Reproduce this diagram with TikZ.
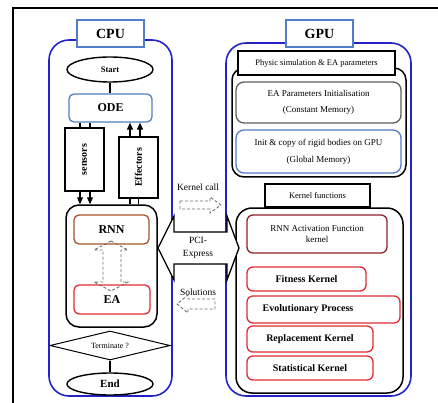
\documentclass[tikz,border=0pt]{standalone}
\usepackage{fontspec}
\setmainfont{Liberation Serif}
\usetikzlibrary{shapes.geometric,arrows.meta,calc}
\definecolor{contblue}{RGB}{35,35,200}
\definecolor{headblue}{RGB}{80,125,200}
\definecolor{rnnbrown}{RGB}{165,85,40}
\definecolor{kred}{RGB}{225,45,50}
\definecolor{darkred}{RGB}{140,35,45}
\definecolor{memgray}{RGB}{95,95,95}
\definecolor{dashgray}{RGB}{110,110,110}
\begin{document}
\begin{tikzpicture}[x=1pt,y=-1pt,
  container/.style={draw=contblue, line width=1.6pt, rounded corners=20pt, inner sep=0},
  innercont/.style={draw=black, line width=1.5pt, rounded corners=13pt, inner sep=0},
  titlebox/.style={draw=headblue, line width=2pt, fill=white, inner sep=0,
     font=\fontsize{14}{16}\selectfont\bfseries, minimum width=67pt, minimum height=27pt},
  blackbox/.style={draw=black, line width=2pt, fill=white, inner sep=0},
  roundbox/.style={line width=1.3pt, rounded corners=6pt, inner sep=0, fill=white},
  kbox/.style={roundbox, draw=kred, font=\fontsize{10}{11}\selectfont\bfseries},
  oval/.style={draw=black, ellipse, line width=1.4pt, inner sep=0},
  conn/.style={draw=black, line width=1.1pt},
  arr/.style={conn, -{Triangle[length=7pt,width=6pt]}},
  hollow/.style={draw=black, fill=white, line width=1.3pt, line join=miter},
  dasharrow/.style={draw=dashgray, line width=0.9pt, dash pattern=on 3pt off 2pt},
  lbl/.style={inner sep=0, font=\fontsize{9.5}{13}\selectfont, align=center}
]
\useasboundingbox (0,0) rectangle (438,403);

% outer frame (left and top edges)
\coordinate (fbl) at (13,403);
\coordinate (ftl) at (13,8);
\coordinate (ftr) at (438,8);
\draw[line width=1.3pt] (fbl) -- (ftl) -- (ftr);

% ---------------- CPU ----------------
\node[container, minimum width=123pt, minimum height=356pt] (cpuc) at (110.5,218) {};
\node[titlebox] (cpu) at (110.5,33.5) {CPU};

\node[oval, minimum width=86pt, minimum height=25pt, font=\fontsize{8.5}{10}\selectfont\bfseries] (start) at (110,69.5) {Start};
\node[roundbox, draw=headblue, rounded corners=5pt, minimum width=83pt, minimum height=28pt,
      font=\fontsize{12}{14}\selectfont\bfseries] (ode) at (110.5,108) {ODE};

\node[blackbox, minimum width=39pt, minimum height=63pt, font=\fontsize{10}{12}\selectfont\bfseries]
   (sens) at (84.5,159.5) {\rotatebox{90}{sensors}};
\node[blackbox, minimum width=39pt, minimum height=61pt, font=\fontsize{10}{12}\selectfont\bfseries]
   (eff) at (138.5,167.5) {\rotatebox{90}{Effectors}};

\node[innercont, minimum width=91pt, minimum height=122pt] (rnnc) at (111.5,266) {};
\node[roundbox, draw=rnnbrown, rounded corners=5pt, minimum width=75pt, minimum height=29pt,
      font=\fontsize{12}{14}\selectfont\bfseries] (rnn) at (111.5,229.5) {RNN};
\node[roundbox, draw=kred, rounded corners=5pt, minimum width=76pt, minimum height=29pt,
      font=\fontsize{12}{14}\selectfont\bfseries] (ea) at (112,299.5) {EA};

\node[draw=black, diamond, shape aspect=4.1, minimum width=120pt, minimum height=29pt, inner sep=0,
      line width=1pt, fill=white, font=\fontsize{8}{10}\selectfont] (term) at (110,345.5) {Terminate ?};
\node[oval, minimum width=86pt, minimum height=22pt, font=\fontsize{11}{13}\selectfont\bfseries] (endn) at (110,384) {End};

% CPU connectors
\draw[conn] (start.south) -- (start.south |- ode.north);
\draw[conn] ([xshift=-4.5pt]sens.north) -- ([xshift=-4.5pt]sens.north |- ode.south);
\draw[conn] ([xshift=5.5pt]sens.north) -- ([xshift=5.5pt]sens.north |- ode.south);
\draw[arr] ([xshift=-4.5pt]sens.south) -- ([xshift=-4.5pt]sens.south |- rnnc.north);
\draw[arr] ([xshift=5.5pt]sens.south) -- ([xshift=5.5pt]sens.south |- rnnc.north);
\draw[arr] ([xshift=-8.5pt]eff.north) -- ([xshift=-8.5pt]eff.north |- ode.south);
\draw[arr] ([xshift=1.5pt]eff.north) -- ([xshift=1.5pt]eff.north |- ode.south);
\draw[conn] ([xshift=-8.5pt]rnnc.north -| eff.south) -- ([xshift=-8.5pt]eff.south);
\draw[conn] ([xshift=0pt]rnnc.north -| eff.south) -- ([xshift=0pt]eff.south);
\draw[conn] (term.south) -- (term.south |- endn.north);

% dashed hollow double arrow RNN <-> EA
\draw[dasharrow] (111,241) -- (128,250) -- (121,250) -- (121,282) -- (128,282) -- (111,291)
   -- (94,282) -- (103,282) -- (103,250) -- (94,250) -- cycle;

% ---------------- GPU ----------------
\node[container, minimum width=185pt, minimum height=353pt] (gpuc) at (318.5,219.5) {};
\node[titlebox] (gpu) at (319.5,33.5) {GPU};

\node[innercont, rounded corners=12pt, minimum width=174pt, minimum height=109pt] (memc) at (319,122.5) {};
\node[blackbox, minimum width=157pt, minimum height=24pt, font=\fontsize{8.5}{10}\selectfont]
   (phys) at (316.5,63) {Physic simulation \& EA parameters};
\node[roundbox, draw=memgray, rounded corners=8pt, minimum width=165pt, minimum height=41pt,
      align=center, font=\fontsize{9}{16}\selectfont] (eapar) at (318.5,102.5)
   {EA Parameters Initialisation\\(Constant Memory)};
\node[roundbox, draw=headblue, rounded corners=8pt, minimum width=165pt, minimum height=43pt,
      align=center, font=\fontsize{9}{17}\selectfont] (initc) at (318.5,151.5)
   {Init \& copy of rigid bodies on GPU\\(Global Memory)};

\node[innercont, rounded corners=16pt, minimum width=167pt, minimum height=185pt] (kerc) at (319.5,300.5) {};
\node[blackbox, minimum width=105pt, minimum height=23pt, font=\fontsize{8.5}{10}\selectfont]
   (kfun) at (317.5,195.5) {Kernel functions};

\node[roundbox, draw=darkred, minimum width=140pt, minimum height=38pt, align=center,
      font=\fontsize{9}{11}\selectfont] (rnnaf) at (317,234) {RNN Activation Function\\kernel};
\node[kbox, minimum width=119pt, minimum height=24pt] (fit) at (306.5,279) {Fitness Kernel};
\node[kbox, minimum width=153pt, minimum height=27pt] (evo) at (323.5,309.5) {};
\node[inner sep=0, font=\fontsize{10}{11}\selectfont\bfseries] (evotxt) at (308,309.5) {Evolutionary Process};
\node[kbox, minimum width=126pt, minimum height=26pt] (repl) at (310,339) {Replacement Kernel};
\node[kbox, minimum width=126pt, minimum height=24pt] (stat) at (310,368) {Statistical Kernel};

% ---------------- PCI-Express ----------------
\draw[hollow] (158,248) -- (174,216) -- (174,232) -- (227,232) -- (227,216) -- (239,248)
   -- (227,280) -- (227,264) -- (174,264) -- (174,280) -- cycle;
\node[lbl] (pci) at (198,247.5) {PCI-\\Express};

\node[lbl] (kcall) at (198,187) {Kernel call};
\draw[dasharrow] (180,201) -- (210,201) -- (210,197) -- (221,205) -- (210,213) -- (210,209) -- (180,209) -- cycle;

\node[lbl] (sol) at (198,292) {Solutions};
\draw[dasharrow] (215,299) -- (188,299) -- (188,295) -- (177,304) -- (188,313) -- (188,309) -- (215,309) -- cycle;

\end{tikzpicture}
\end{document}
